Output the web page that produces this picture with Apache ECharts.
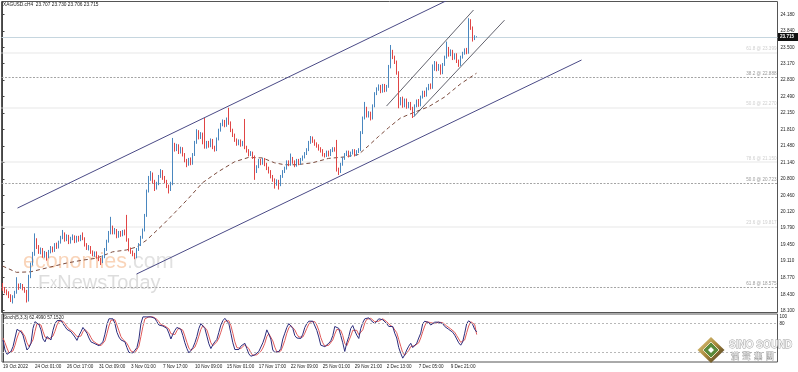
<!DOCTYPE html>
<html><head><meta charset="utf-8">
<script src="https://cdn.jsdelivr.net/npm/echarts/dist/echarts.min.js"></script>
<style>html,body{margin:0;padding:0;background:#fff}#c{width:798px;height:372px}</style>
</head><body><div id="c"></div><script>
// ---- data ----
const symbolTitle = 'XAGUSD.cH4  23.707 23.730 23.706 23.715';
const stochTitle = 'Stoch(5,3,3) 62.4990 57.1520';
const timeLabels = ['19 Oct 2022','24 Oct 01:00','26 Oct 17:00','31 Oct 09:00','3 Nov 01:00','7 Nov 17:00','10 Nov 09:00','15 Nov 01:00','17 Nov 17:00','22 Nov 09:00','25 Nov 01:00','29 Nov 21:00','2 Dec 13:00','7 Dec 05:00','9 Dec 21:00'];
const slotCount = 388;           // bar slots across the chart (incl. right shift)
const labelEvery = 16;
// [open, close, low, high]
const ohlc = [
[18.62,18.55,18.50,18.66],[18.55,18.50,18.45,18.58],[18.50,18.45,18.41,18.53],[18.45,18.40,18.35,18.49],[18.40,18.33,18.27,18.43],
[18.33,18.38,18.24,18.41],[18.38,18.47,18.35,18.50],[18.47,18.60,18.44,18.78],[18.60,18.57,18.52,18.65],[18.57,18.62,18.54,18.66],
[18.62,18.55,18.51,18.64],[18.55,18.50,18.46,18.58],[18.50,18.30,18.26,18.52],[18.30,18.80,18.28,18.83],[18.80,19.05,18.76,19.08],
[19.05,19.25,19.02,19.30],[19.25,19.55,19.22,19.68],[19.55,19.40,19.36,19.58],[19.40,19.30,19.26,19.44],[19.30,19.35,19.25,19.39],
[19.35,19.22,19.18,19.38],[19.22,19.28,19.18,19.32],[19.28,19.20,19.12,19.30],[19.20,19.30,19.17,19.34],[19.30,19.38,19.27,19.42],
[19.38,19.33,19.29,19.41],[19.33,19.45,19.30,19.48],[19.45,19.40,19.36,19.49],[19.40,19.50,19.37,19.53],[19.50,19.60,19.47,19.63],
[19.60,19.68,19.56,19.75],[19.68,19.55,19.51,19.70],[19.55,19.62,19.52,19.66],[19.62,19.50,19.46,19.65],[19.50,19.58,19.47,19.61],
[19.58,19.62,19.54,19.66],[19.62,19.52,19.48,19.64],[19.52,19.60,19.49,19.63],[19.60,19.55,19.51,19.63],[19.55,19.62,19.52,19.65],
[19.62,19.58,19.54,19.70],[19.58,19.45,19.41,19.60],[19.45,19.38,19.34,19.48],[19.38,19.40,19.33,19.44],[19.40,19.30,19.26,19.42],
[19.30,19.25,19.21,19.33],[19.25,19.28,19.20,19.31],[19.28,19.20,19.16,19.31],[19.20,19.15,19.11,19.23],[19.15,19.10,19.03,19.18],
[19.10,19.20,19.07,19.23],[19.20,19.35,19.17,19.38],[19.35,19.52,19.32,19.55],[19.52,19.70,19.49,19.73],[19.70,19.80,19.66,20.02],
[19.80,19.70,19.66,19.84],[19.70,19.75,19.66,19.79],[19.75,19.62,19.58,19.77],[19.62,19.70,19.59,19.73],[19.70,19.65,19.61,19.73],
[19.65,19.72,19.62,19.75],[19.72,19.68,19.64,19.76],[19.68,19.55,19.51,20.06],[19.55,19.35,19.31,19.58],[19.35,19.30,19.26,19.39],
[19.30,19.25,19.21,19.33],[19.25,19.20,19.15,19.28],[19.20,19.35,19.17,19.38],[19.35,19.45,19.32,19.48],[19.45,19.60,19.42,19.63],
[19.60,19.75,19.57,19.78],[19.75,20.05,19.72,20.08],[20.05,20.55,20.02,20.58],[20.55,20.80,20.52,20.86],[20.80,20.90,20.76,20.96],
[20.90,20.75,20.71,20.93],[20.75,20.62,20.55,20.78],[20.62,20.70,20.58,20.74],[20.70,20.85,20.67,20.88],[20.85,20.95,20.82,21.00],
[20.95,20.82,20.78,20.98],[20.82,20.75,20.71,20.86],[20.75,20.65,20.61,20.78],[20.65,20.58,20.50,20.68],[20.58,20.70,20.55,20.74],
[20.70,21.50,20.67,21.64],[21.50,21.40,21.36,21.54],[21.40,21.48,21.37,21.52],[21.48,21.35,21.31,21.51],[21.35,21.42,21.32,21.46],
[21.42,21.30,21.26,21.45],[21.30,21.18,21.14,21.33],[21.18,21.10,21.04,21.21],[21.10,21.20,21.07,21.23],[21.20,21.12,21.08,21.24],
[21.12,21.30,21.09,21.33],[21.30,21.55,21.27,21.58],[21.55,21.78,21.52,21.82],[21.78,21.65,21.61,21.80],[21.65,21.72,21.62,21.76],
[21.72,21.55,21.51,21.75],[21.60,21.45,21.42,22.05],[21.45,21.55,21.42,21.58],[21.55,21.48,21.44,21.58],[21.48,21.60,21.45,21.63],
[21.60,21.45,21.41,21.62],[21.45,21.40,21.36,21.48],[21.40,21.62,21.37,21.65],[21.62,21.80,21.59,21.83],[21.80,21.92,21.77,21.95],
[21.92,21.98,21.88,22.02],[21.98,21.90,21.86,22.01],[21.90,22.02,21.87,22.06],[22.02,21.95,21.91,22.26],[21.95,21.80,21.76,21.98],
[21.80,21.70,21.66,21.83],[21.70,21.60,21.56,21.73],[21.60,21.52,21.48,21.63],[21.52,21.58,21.49,21.61],[21.58,21.50,21.46,21.61],
[21.50,21.55,21.47,21.58],[21.55,21.45,21.41,22.03],[21.45,21.38,21.34,21.48],[21.38,21.30,21.26,21.41],[21.30,21.33,21.27,21.37],
[21.33,21.25,21.21,21.36],[21.25,20.95,20.78,21.28],[20.95,21.05,20.92,21.08],[21.05,21.18,21.02,21.21],[21.18,21.12,21.08,21.21],
[21.12,21.20,21.09,21.23],[21.20,21.10,21.06,21.23],[21.10,21.02,20.98,21.13],[21.02,20.95,20.91,21.05],[20.95,20.85,20.81,20.98],
[20.85,20.78,20.74,20.88],[20.78,20.70,20.60,20.81],[20.70,20.75,20.66,20.79],[20.75,20.68,20.58,20.78],[20.68,20.85,20.65,20.88],
[20.85,20.95,20.82,20.98],[20.95,21.02,20.92,21.05],[21.02,21.15,20.99,21.18],[21.15,21.10,21.06,21.18],[21.10,21.22,21.07,21.32],
[21.22,21.15,21.11,21.25],[21.15,21.08,21.04,21.18],[21.08,21.18,21.05,21.21],[21.18,21.12,21.08,21.21],[21.12,21.20,21.09,21.23],
[21.20,21.25,21.17,21.28],[21.25,21.32,21.22,21.35],[21.32,21.40,21.29,21.43],[21.40,21.55,21.37,21.58],[21.55,21.65,21.52,21.68],
[21.65,21.58,21.54,21.67],[21.58,21.52,21.48,21.61],[21.52,21.48,21.44,21.55],[21.48,21.42,21.38,21.51],[21.42,21.38,21.34,21.45],
[21.38,21.30,21.26,21.41],[21.30,21.28,21.24,21.33],[21.28,21.35,21.25,21.38],[21.35,21.30,21.26,21.38],[21.30,21.38,21.27,21.41],
[21.38,21.42,21.35,21.45],[21.42,21.40,21.36,21.45],[21.40,21.00,20.95,21.60],[21.00,20.95,20.88,21.03],[20.95,21.10,20.92,21.13],
[21.10,21.22,21.07,21.25],[21.22,21.30,21.19,21.33],[21.30,21.35,21.27,21.38],[21.35,21.28,21.24,21.38],[21.28,21.33,21.25,21.36],
[21.33,21.38,21.30,21.41],[21.38,21.30,21.26,21.41],[21.30,21.36,21.27,21.39],[21.36,21.40,21.33,21.43],[21.40,21.75,21.37,21.78],
[21.75,22.05,21.72,22.08],[22.05,22.25,22.02,22.38],[22.25,22.10,22.06,22.28],[22.10,22.15,22.06,22.19],[22.15,22.05,22.00,22.18],
[22.05,22.30,22.02,22.33],[22.30,22.55,22.27,22.58],[22.55,22.65,22.52,22.68],[22.65,22.70,22.61,22.74],[22.70,22.60,22.56,22.73],
[22.60,22.72,22.57,22.75],[22.72,22.62,22.58,22.75],[22.62,22.70,22.59,22.73],[22.70,23.10,22.67,23.14],[23.10,23.40,23.07,23.55],
[23.40,23.30,23.26,23.45],[23.30,23.20,23.16,23.33],[23.20,22.98,22.94,23.23],[22.98,22.35,22.25,23.01],[22.35,22.45,22.31,22.48],
[22.45,22.30,22.26,22.49],[22.30,22.42,22.27,22.45],[22.42,22.28,22.24,22.45],[22.28,22.35,22.25,22.38],[22.35,22.25,22.21,22.38],
[22.25,22.12,22.05,22.28],[22.12,22.30,22.09,22.33],[22.30,22.40,22.27,22.43],[22.40,22.32,22.28,22.44],[22.32,22.48,22.29,22.51],
[22.48,22.58,22.45,22.61],[22.58,22.52,22.48,22.61],[22.52,22.65,22.49,22.68],[22.65,22.72,22.62,22.75],[22.72,22.68,22.64,22.76],
[22.68,23.05,22.65,23.15],[23.05,23.18,23.02,23.22],[23.18,23.05,23.01,23.21],[23.05,23.12,23.02,23.16],[23.12,22.98,22.94,23.15],
[22.98,23.15,22.95,23.18],[23.15,23.30,23.12,23.33],[23.30,23.48,23.27,23.62],[23.48,23.35,23.31,23.51],[23.35,23.42,23.32,23.46],
[23.42,23.28,23.24,23.45],[23.28,23.35,23.25,23.38],[23.35,23.22,23.18,23.38],[23.22,23.15,23.10,23.25],[23.15,23.30,23.12,23.33],
[23.30,23.38,23.27,23.41],[23.38,23.45,23.35,23.48],[23.45,23.40,23.36,23.49],[23.40,24.00,23.37,24.10],[24.00,23.90,23.86,24.08],
[23.90,23.68,23.62,23.93],[23.68,23.71,23.65,23.75],[23.707,23.715,23.706,23.730]
];
// moving average (bar index, price)
const maIndex = [0,7,14,24,32,40,47,55,62,67,72,80,86,93,100,108,116,123,130,136,141,147,155,163,171,178,183,188,193,199,206,213,221,229,237];
const maValue = [19.01,18.88,18.89,18.99,19.07,19.13,19.17,19.30,19.34,19.40,19.54,19.85,20.10,20.40,20.72,20.95,21.15,21.24,21.23,21.13,21.09,21.09,21.13,21.22,21.25,21.30,21.48,21.67,21.85,22.05,22.17,22.28,22.48,22.75,22.97];
// trend channels: [barIndex, price] endpoints
const channelUpper = [[7.5,20.20],[222.5,24.47]];
const channelLower = [[67,18.845],[289.5,23.241]];
const miniUpper = [[192,22.295],[235.5,24.268]];
const miniLower = [[205.5,22.07],[251,24.06]];
// stochastic
const stochMain = [46,25,16,15,22,32,50,68,66,63,56,40,25,30,39,70,84,87,78,67,48,42,53,50,46,66,80,86,88,87,80,74,68,65,63,61,52,45,55,63,72,68,60,50,42,40,38,37,34,32,42,58,78,90,94,90,80,62,52,46,44,42,30,20,18,19,20,30,48,80,94,95,94,94,94,93,91,84,77,74,75,77,70,60,48,58,66,72,74,68,55,40,28,19,24,30,40,53,70,80,78,70,54,38,28,36,42,47,62,77,86,91,88,80,60,40,26,25,26,33,36,39,28,17,12,13,15,18,22,25,40,52,67,58,48,25,20,18,22,28,48,60,72,80,76,70,55,50,50,49,58,72,80,85,87,85,81,66,52,35,32,32,35,39,44,55,74,73,70,55,40,22,40,53,70,76,65,56,49,70,82,90,94,92,87,84,80,85,90,91,88,84,80,74,72,74,60,50,30,18,8,15,25,33,39,30,32,39,50,60,80,85,86,82,77,80,83,84,83,83,80,74,72,68,67,62,56,48,40,35,42,60,80,86,87,78,68,62.5];
const stochSignal = [50,40,29,19,18,23,35,50,61,66,62,53,40,32,31,46,64,80,83,77,64,52,48,48,50,54,64,77,85,87,85,80,74,69,65,63,59,53,51,54,63,68,67,59,51,44,40,38,36,34,36,44,59,75,87,91,88,77,65,53,47,44,39,31,23,19,19,23,33,53,74,90,94,94,94,94,93,89,84,78,75,75,74,69,59,55,57,65,71,71,66,54,41,29,24,24,31,41,54,68,76,76,67,54,40,34,35,42,50,62,75,85,88,86,76,60,42,30,26,28,32,36,34,28,19,14,13,15,18,22,29,39,53,59,58,44,31,21,20,23,33,45,60,71,76,75,67,58,52,50,52,60,70,79,84,86,84,77,66,51,40,33,33,35,39,46,58,68,72,66,55,39,34,38,54,66,70,66,57,58,67,81,89,92,91,88,84,83,85,89,90,88,84,79,75,73,69,61,47,33,19,14,16,24,32,34,34,34,40,50,63,75,84,84,82,80,80,82,83,83,82,79,75,71,69,66,62,55,48,41,39,46,61,75,84,84,78,57.15];
const stochLevels = [80,20];
const stochTicks = [100,80];
// price axis
const priceTicks = [24.18,23.84,23.50,23.17,22.83,22.49,22.15,21.81,21.48,21.14,20.80,20.46,20.12,19.79,19.45,19.11,18.77,18.43,18.10];
const bidPrice = 23.715;
const bidLabel = '23.715';
// fibonacci levels
const fibStrongPrices = [22.888,20.723,18.575];
const fibStrongLabels = ['38.2 @ 22.888','50.0 @ 20.723','61.8 @ 18.575'];
const fibFaintPrices = [23.399,22.270,21.150,19.817];
const fibFaintLabels = ['61.8 @ 23.399','50.0 @ 22.270','78.6 @ 21.150','23.6 @ 19.817'];

// ---- chart ----
const FONT = 'Liberation Sans';
const categories = Array.from({length: slotCount}, (_, i) =>
  (i % labelEvery === 0 && timeLabels[i / labelEvery]) ? timeLabels[i / labelEvery] : '');
const chart = echarts.init(document.getElementById('c'));
const fibMarks = [];
fibStrongPrices.forEach((p, k) => fibMarks.push({yAxis: p,
  lineStyle: {type: [2, 1.5], color: '#a4a4a4', width: 1},
  label: {formatter: fibStrongLabels[k], color: '#9a9a9a'}}));
fibFaintPrices.forEach((p, k) => fibMarks.push({yAxis: p,
  lineStyle: {type: [1, 1], color: '#dedede', width: 1.5},
  label: {formatter: fibFaintLabels[k], color: '#cfcfcf'}}));
fibMarks.push({yAxis: bidPrice, lineStyle: {type: 'solid', color: '#c6d6df', width: 1}, label: {show: false}});

const lineSeries = (data, color, width, type) => ({
  type: 'line', xAxisIndex: 1, yAxisIndex: 0, data, showSymbol: false, symbol: 'none',
  silent: true, clip: true, z: 4, lineStyle: {color, width, type: type || 'solid'}
});

chart.setOption({
  animation: false,
  textStyle: {fontFamily: FONT},
  grid: [
    {left: 1.5, top: 1.5, width: 776, height: 311, show: true, borderColor: '#555', borderWidth: 1},
    {left: 1.5, top: 314, width: 776, height: 48, show: true, borderColor: '#555', borderWidth: 1}
  ],
  xAxis: [
    {type: 'category', gridIndex: 0, data: categories, axisLine: {show: false}, axisTick: {show: false}, axisLabel: {show: false}, splitLine: {show: false}},
    {type: 'value', gridIndex: 0, min: -0.5, max: slotCount - 0.5, show: false},
    {type: 'category', gridIndex: 1, data: categories, axisLine: {show: false}, axisTick: {show: false}, splitLine: {show: false},
      axisLabel: {interval: labelEvery - 1, fontSize: 4.6, color: '#222', align: 'left', margin: 2, fontFamily: FONT}},
    {type: 'value', gridIndex: 1, min: -0.5, max: slotCount - 0.5, show: false}
  ],
  yAxis: [
    {type: 'value', gridIndex: 0, position: 'right', min: 18.055, max: 24.443, splitLine: {show: false},
      axisLine: {show: true, lineStyle: {color: '#444', width: 1}},
      axisTick: {show: true, customValues: priceTicks, length: 2, lineStyle: {color: '#444'}},
      axisLabel: {customValues: priceTicks, formatter: v => v.toFixed(3), fontSize: 4.6, color: '#222', margin: 3, fontFamily: FONT}},
    {type: 'value', gridIndex: 1, position: 'right', min: 0, max: 100, splitLine: {show: false},
      axisLine: {show: true, lineStyle: {color: '#444', width: 1}},
      axisTick: {show: false},
      axisLabel: {customValues: stochTicks, formatter: v => v === 100 ? '{t|100}' : String(v), fontSize: 4.6, color: '#222', margin: 2,
        rich: {t: {padding: [6, 0, 0, 0], fontSize: 4.6, color: '#222', fontFamily: FONT}}, fontFamily: FONT}}
  ],
  series: [
    {type: 'candlestick', xAxisIndex: 0, yAxisIndex: 0, data: ohlc, barWidth: 1, z: 5,
      itemStyle: {color: '#4a87bf', color0: '#e04545', borderColor: '#4a87bf', borderColor0: '#e04545', borderWidth: 1},
      markLine: {silent: true, symbol: 'none', animation: false, z: 1,
        label: {show: true, position: 'insideEndTop', fontSize: 4.6, distance: [1, 1], fontFamily: FONT},
        data: fibMarks}},
    lineSeries(maIndex.map((x, k) => [x, maValue[k]]), '#7b4a3c', 1, [4, 3]),
    lineSeries(channelUpper, '#4a4a86', 1),
    lineSeries(channelLower, '#4a4a86', 1),
    lineSeries(miniUpper, '#3a3a48', 0.8),
    lineSeries(miniLower, '#3a3a48', 0.8),
    {type: 'line', xAxisIndex: 2, yAxisIndex: 1, data: stochSignal, showSymbol: false, symbol: 'none', silent: true,
      lineStyle: {color: '#e05a5a', width: 1},
      markLine: {silent: true, symbol: 'none', label: {show: false}, lineStyle: {type: [2, 2], color: '#b8b8b8', width: 1},
        data: stochLevels.map(v => ({yAxis: v}))}},
    {type: 'line', xAxisIndex: 2, yAxisIndex: 1, data: stochMain, showSymbol: false, symbol: 'none', silent: true,
      lineStyle: {color: '#2c2c7c', width: 1}}
  ]
});

const bidY = chart.convertToPixel({yAxisIndex: 0}, bidPrice);
chart.setOption({
  graphic: [
    {type: 'text', left: 3, top: 2.5, z: 10, style: {text: symbolTitle, fontSize: 4.8, fill: '#222', fontFamily: FONT}},
    {type: 'text', left: 3, top: 315, z: 10, style: {text: stochTitle, fontSize: 4.6, fill: '#222', fontFamily: FONT}},
    {type: 'rect', shape: {x: 778, y: Math.round(bidY) - 4, width: 20, height: 8}, z: 10, style: {fill: '#111'}},
    {type: 'text', x: 780, y: Math.round(bidY), z: 11, style: {text: bidLabel, fontSize: 4.6, fill: '#fff', fontWeight: 'bold', verticalAlign: 'middle', fontFamily: FONT}},
    {type: 'text', x: 23, y: 251, z: 1, silent: true, style: {
      text: '{a|economies}{b|.com}', fontFamily: 'Liberation Sans',
      rich: {a: {fontSize: 21.5, fill: 'rgba(242,160,100,0.45)', fontFamily: 'Liberation Sans'}, b: {fontSize: 21.5, fill: 'rgba(180,180,180,0.4)', fontFamily: 'Liberation Sans'}}}},
    {type: 'text', x: 38, y: 273, z: 1, silent: true, style: {
      text: '{f|F}{x|x}{n|NewsToday}',
      rich: {f: {fontSize: 20, fill: 'rgba(170,170,170,0.4)', fontFamily: 'Liberation Sans'}, x: {fontSize: 14, fill: 'rgba(170,170,170,0.4)', fontFamily: 'Liberation Sans'}, n: {fontSize: 20, fill: 'rgba(170,170,170,0.4)', fontFamily: 'Liberation Sans'}}}},
    {type: 'polygon', z: 12, shape: {points: [[711, 337], [724.5, 350], [711, 363], [697.5, 350]]},
      style: {fill: new echarts.graphic.LinearGradient(0, 0, 1, 1, [{offset: 0, color: '#e8d089'}, {offset: 0.5, color: '#a8873a'}, {offset: 1, color: '#3a3020'}])}},
    {type: 'polygon', z: 13, shape: {points: [[711, 342], [719, 350], [711, 358], [703, 350]]}, style: {fill: '#5a8a3c', stroke: '#e8e0c0', lineWidth: 1}},
    {type: 'polygon', z: 14, shape: {points: [[711, 347], [714, 350], [711, 353], [708, 350]]}, style: {fill: '#ffffff'}},
    {type: 'text', x: 729, y: 340, z: 12, style: {text: 'SINO SOUND', fontSize: 10, fontWeight: 'bold', fill: '#f4f4f4', stroke: '#9a9a9a', lineWidth: 0.8, fontFamily: 'Liberation Sans'}},
    {type: 'text', x: 731, y: 352, z: 12, style: {text: '漢  聲  集  團', fontSize: 8, fill: '#f4f4f4', stroke: '#9a9a9a', lineWidth: 0.8, fontFamily: 'Noto Sans CJK TC'}}
  ]
});
</script></body></html>
